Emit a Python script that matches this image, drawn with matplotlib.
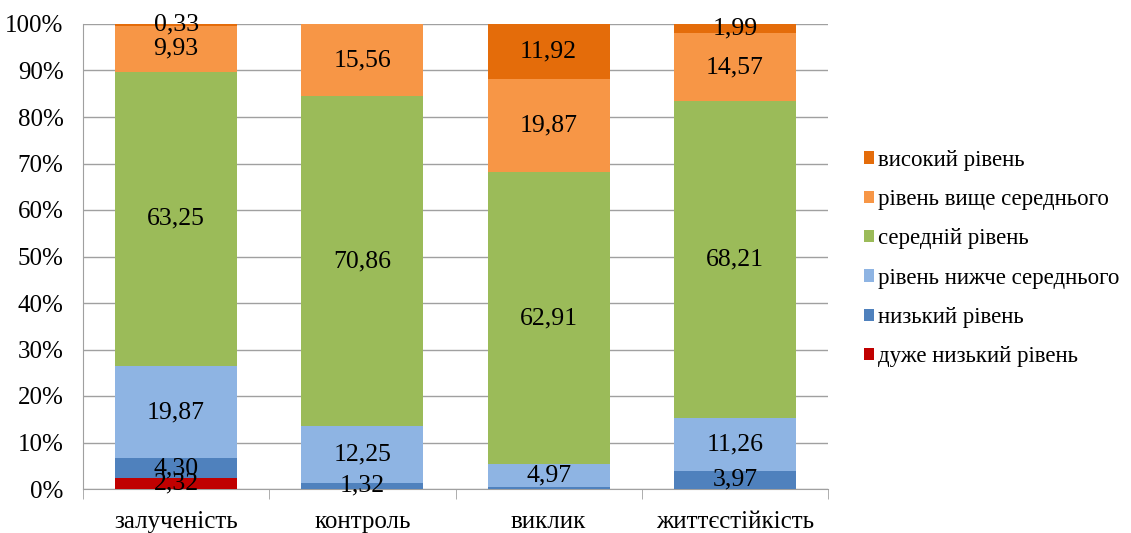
import matplotlib
matplotlib.use('Agg')

import matplotlib.pyplot as plt
import numpy as np

plt.rcParams['font.family'] = ['Liberation Serif', 'DejaVu Serif']

# Категорії та частки рівнів (%)
categories = ['залученість', 'контроль', 'виклик', 'життєстійкість']
series_names = ['дуже низький рівень', 'низький рівень', 'рівень нижче середнього',
                'середній рівень', 'рівень вище середнього', 'високий рівень']
very_low = [2.32, 0.0, 0.0, 0.0]
low = [4.30, 1.32, 0.33, 3.97]
below_avg = [19.87, 12.25, 4.97, 11.26]
average = [63.25, 70.86, 62.91, 68.21]
above_avg = [9.93, 15.56, 19.87, 14.57]
high = [0.33, 0.0, 11.92, 1.99]

# підписи, які не виводяться (надто тонкі сегменти)
hidden = {(1, 2)}

values = [very_low, low, below_avg, average, above_avg, high]
colors = ['#C00000', '#4F81BD', '#8EB4E3', '#9BBB59', '#F79646', '#E46C0A']

fig = plt.figure(figsize=(11.31, 5.33), dpi=100)
ax = fig.add_axes([83 / 1131, 44 / 533, 745 / 1131, 465 / 533])

x = np.arange(len(categories))
bottom = np.zeros(len(categories))
for i, (vals, col) in enumerate(zip(values, colors)):
    vals = np.array(vals)
    ax.bar(x, vals, 0.655, bottom=bottom, color=col, zorder=3, label=series_names[i])
    for j, v in enumerate(vals):
        if v > 0 and (i, j) not in hidden:
            ax.text(x[j], bottom[j] + v / 2, f'{v:.2f}'.replace('.', ','),
                    ha='center', va='center', fontsize=18.5, zorder=4)
    bottom += vals

ax.set_xlim(-0.5, len(categories) - 0.5)
ax.set_ylim(0, 100)
ax.set_yticks(np.arange(0, 101, 10))
ax.set_yticklabels([f'{t}%' for t in range(0, 101, 10)], fontsize=18)
ax.yaxis.grid(True, color='#A0A0A0', linewidth=1, zorder=0)
ax.tick_params(axis='y', length=0, pad=14)

ax.set_xticks(x)
ax.set_xticklabels(categories, fontsize=18)
ax.set_xticks(np.arange(-0.5, len(categories)), minor=True)
ax.tick_params(axis='x', which='major', length=0, pad=16)
ax.tick_params(axis='x', which='minor', length=7, color='#A0A0A0', direction='out')

for side in ['top', 'right']:
    ax.spines[side].set_visible(False)
for side in ['left', 'bottom']:
    ax.spines[side].set_color('#A0A0A0')

handles, labels = ax.get_legend_handles_labels()
fig.legend(handles[::-1], labels[::-1], loc='center left', bbox_to_anchor=(855 / 1131, 0.515),
           frameon=False, fontsize=16.5, handlelength=0.45, handleheight=0.45,
           handletextpad=0.15, labelspacing=0.8, borderaxespad=0)

fig.savefig('out.png', dpi=100)
